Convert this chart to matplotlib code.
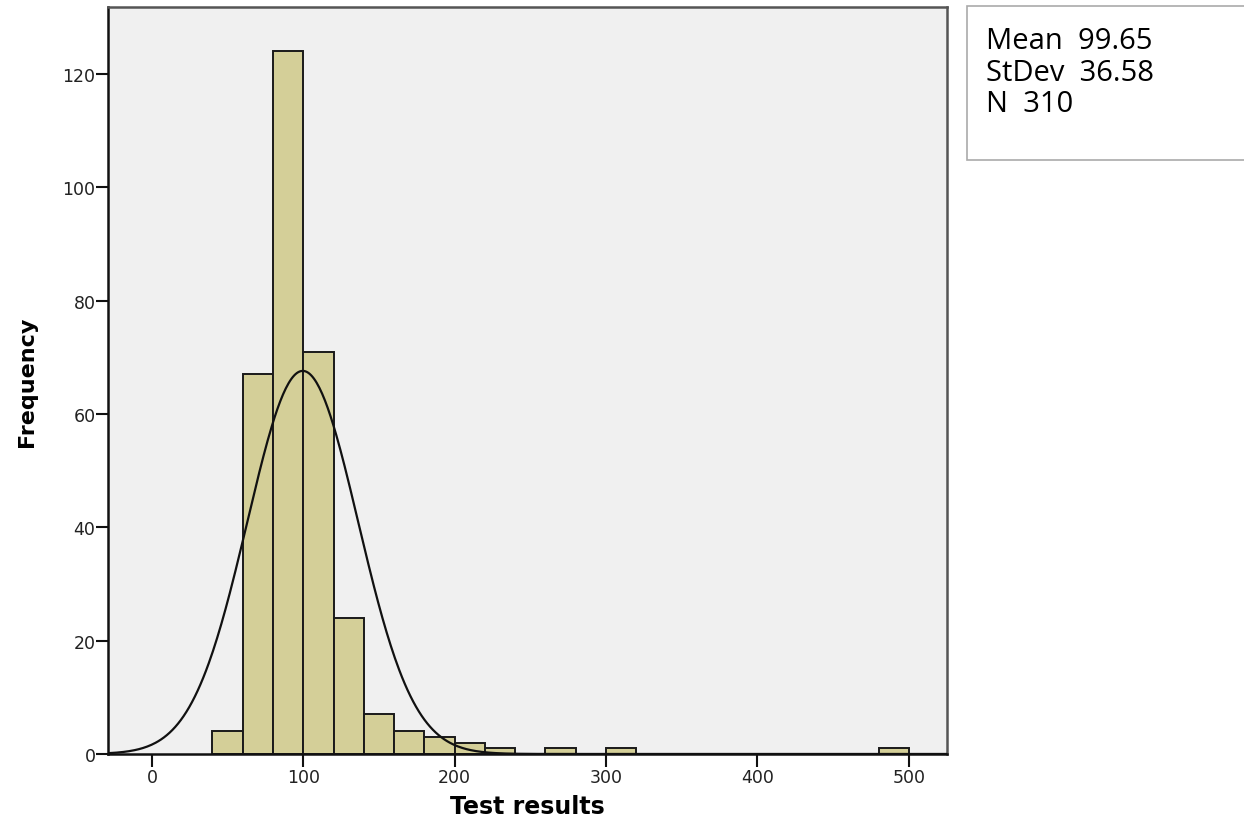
import numpy as np
import matplotlib.pyplot as plt

# histogram counts, bins of width 20
bin_left = [40, 60, 80, 100, 120, 140, 160, 180, 200, 220, 260, 300, 480]
counts = [4, 67, 124, 71, 24, 7, 4, 3, 2, 1, 1, 1, 1]
bin_width = 20

mean = 99.65
stdev = 36.58
n = 310

x_ticks = [0, 100, 200, 300, 400, 500]
y_ticks = [0, 20, 40, 60, 80, 100, 120]

fig = plt.figure(figsize=(12.44, 8.29), dpi=100)
ax = fig.add_axes([0.0868, 0.0893, 0.6742, 0.9007])
ax.set_facecolor('#f0f0f0')

ax.bar(bin_left, counts, width=bin_width, align='edge', color='#d4cf98',
       edgecolor='#1a1a1a', linewidth=1.4, zorder=2)

# fitted normal curve scaled to counts
xs = np.linspace(-29, 525, 600)
ys = n * bin_width / (stdev * np.sqrt(2 * np.pi)) * np.exp(-0.5 * ((xs - mean) / stdev) ** 2)
ax.plot(xs, ys, color='#111111', linewidth=1.6, zorder=3)

ax.set_xlim(-29, 525)
ax.set_ylim(0, 131.8)
ax.set_xticks(x_ticks)
ax.set_yticks(y_ticks)
ax.tick_params(direction='out', length=9, width=1.5, color='#111111',
               labelsize=12.5, pad=1, labelcolor='#222222')
ax.tick_params(axis='y', pad=0)

for side in ['left', 'bottom']:
    ax.spines[side].set_color('#111111')
    ax.spines[side].set_linewidth(1.8)
for side in ['top', 'right']:
    ax.spines[side].set_color('#555555')
    ax.spines[side].set_linewidth(1.8)

ax.set_xlabel('Test results', fontsize=17, fontweight='bold', labelpad=6)
ax.set_ylabel('Frequency', fontsize=16, fontweight='bold', labelpad=18)

# stats box
fig.text(0.793, 0.967, 'Mean  %.2f\nStDev  %.2f\nN  %d' % (mean, stdev, n),
         fontsize=21, family='Open Sans', va='top', ha='left', linespacing=1.1,
         transform=fig.transFigure)
box = plt.Rectangle((0.7775, 0.806), 0.25, 0.186, transform=fig.transFigure,
                    facecolor='white', edgecolor='#aaaaaa', linewidth=1.2, zorder=-1)
fig.patches.append(box)

fig.savefig('out.png', dpi=100, facecolor='white')
